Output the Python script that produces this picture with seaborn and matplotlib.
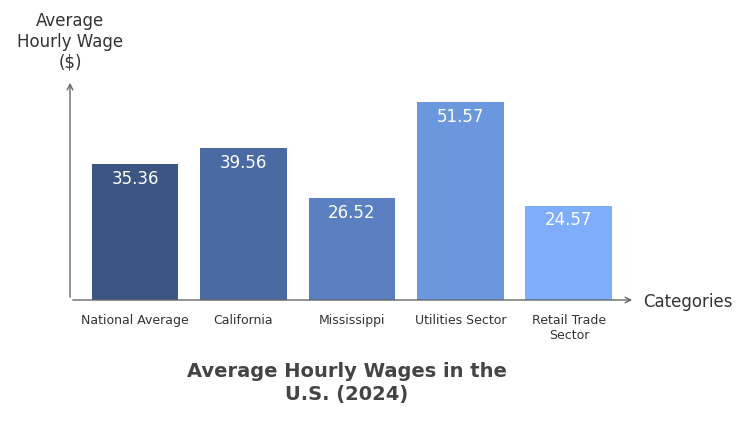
import matplotlib
matplotlib.use("Agg")
import matplotlib.pyplot as plt
import seaborn as sns
import pandas as pd

categories = ["National Average", "California", "Mississippi", "Utilities Sector", "Retail Trade\nSector"]
wages = [35.36, 39.56, 26.52, 51.57, 24.57]
colors = ["#3b5683", "#4a6aa3", "#5a80c2", "#6b97de", "#7eadfc"]

df = pd.DataFrame({"category": categories, "wage": wages})

fig = plt.figure(figsize=(7.5, 4.21), dpi=100)
ax = fig.add_axes([70 / 750, 121 / 421, 565 / 750, 220 / 421])
sns.barplot(data=df, x="category", y="wage", hue="category", palette=colors,
            legend=False, width=0.8, saturation=1, ax=ax)
ax.set_xlim(-0.6, 4.61)
ax.set_ylim(0, 57.3)
for s in ax.spines.values():
    s.set_visible(False)
ax.set_yticks([])
ax.set_xlabel("")
ax.set_ylabel("")
ax.tick_params(axis="x", length=0, pad=10, labelsize=9, labelcolor="#333333")

for i, v in enumerate(wages):
    ax.text(i, v - 1.5, f"{v:.2f}", ha="center", va="top", color="white", fontsize=12)

# axis arrows
ax.annotate("", xy=(1.0, 0), xytext=(0, 0), xycoords="axes fraction",
            arrowprops=dict(arrowstyle="->", color="#666666", lw=1))
ax.annotate("", xy=(0, 1.0), xytext=(0, 0), xycoords="axes fraction",
            arrowprops=dict(arrowstyle="->", color="#666666", lw=1))
fig.text(643 / 750, 1 - 302 / 421, "Categories", ha="left", va="center", fontsize=12, color="#333333")
fig.text(70 / 750, 1 - 42 / 421, "Average\nHourly Wage\n($)", ha="center", va="center",
         fontsize=12, color="#333333", linespacing=1.2)
fig.text(347 / 750, 1 - 383 / 421, "Average Hourly Wages in the\nU.S. (2024)", ha="center", va="center",
         fontsize=14, fontweight="bold", color="#444444", linespacing=1.3)

plt.savefig("out.png", dpi=100)
plt.close()
